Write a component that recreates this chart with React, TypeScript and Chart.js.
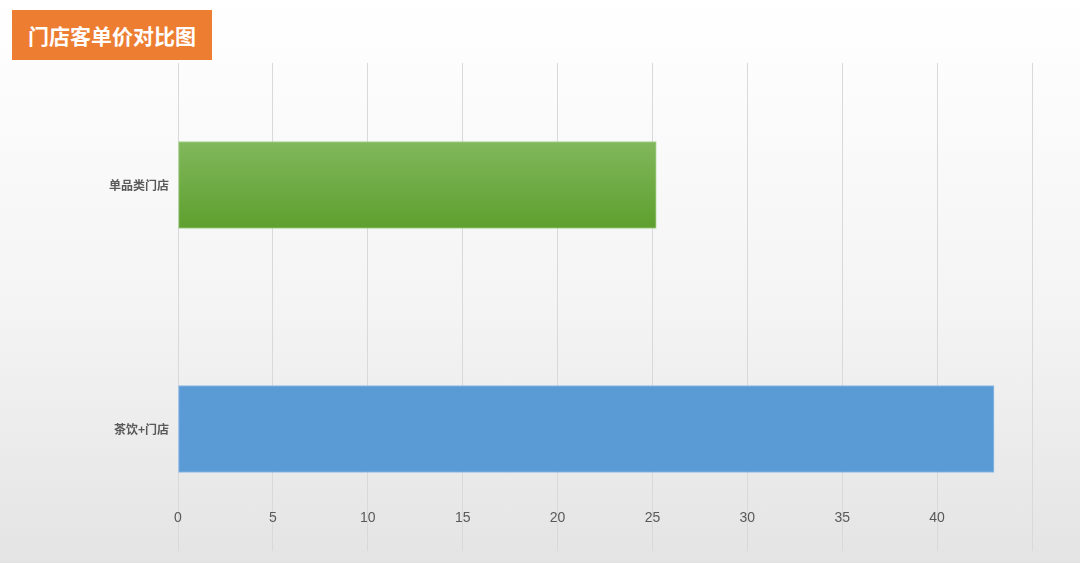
import React, { useEffect, useRef } from "react";
import { Chart, registerables } from "chart.js";

Chart.register(...registerables);

const TITLE = "门店客单价对比图";
const categories = ["单品类门店", "茶饮+门店"];
const values = [25.2, 43.0];
const xTicksMax = 45;
const xTickStep = 5;

export default function App() {
  const ref = useRef<HTMLCanvasElement | null>(null);

  useEffect(() => {
    if (!ref.current) return;
    const chart = new Chart(ref.current, {
      type: "bar",
      data: {
        labels: categories,
        datasets: [
          {
            data: values,
            backgroundColor: (ctx: any) => {
              const c = ctx.chart;
              if (ctx.dataIndex === 1) return "#5B9BD5";
              const area = c.chartArea;
              const ys = c.scales.y;
              if (!area || !ys) return "#6CAC3F";
              const cy = ys.getPixelForValue(0);
              const g = c.ctx.createLinearGradient(0, cy - 44, 0, cy + 44);
              g.addColorStop(0, "#81B85C");
              g.addColorStop(1, "#5E9F2E");
              return g;
            },
            borderColor: ["#A6D38A", "#8FBCE8"],
            borderWidth: 1,
            borderSkipped: false,
            barThickness: 87,
          },
        ],
      },
      options: {
        indexAxis: "y",
        responsive: false,
        animation: false,
        maintainAspectRatio: false,
        layout: { padding: { top: 63, right: 48, bottom: 12, left: 0 } },
        plugins: { legend: { display: false }, tooltip: { enabled: false }, title: { display: false } },
        scales: {
          x: {
            min: 0,
            max: xTicksMax,
            ticks: {
              stepSize: xTickStep,
              mirror: true,
              padding: 24,
              color: "#595959",
              font: { family: '"Liberation Sans", Arial, sans-serif', size: 14 },
              callback: (v: any) => (Number(v) >= xTicksMax ? "" : String(v)),
            },
            grid: { color: "#D9D9D9", lineWidth: 1, drawTicks: false },
            border: { display: false },
            afterFit: (s: any) => {
              s.height = 0;
              s.paddingTop = 0;
              s.paddingBottom = 0;
            },
          },
          y: {
            ticks: {
              padding: 9,
              color: "#595959",
              font: { family: '"Noto Sans CJK SC", sans-serif', size: 12, weight: "600" },
            },
            grid: { display: false, drawTicks: false },
            border: { display: false },
            afterFit: (s: any) => {
              s.width = 178;
              s.paddingTop = 0;
              s.paddingBottom = 0;
            },
          },
        },
      },
    });
    return () => chart.destroy();
  }, []);

  return (
    <div
      style={{
        position: "absolute",
        left: 0,
        top: 0,
        width: 1080,
        height: 563,
        background: "linear-gradient(to bottom, #FFFFFF 0%, #F4F4F4 55%, #E4E4E4 100%)",
        overflow: "hidden",
      }}
    >
      <canvas ref={ref} width={1080} height={563} style={{ position: "absolute", left: 0, top: 0, width: 1080, height: 563 }} />
      <div
        style={{
          position: "absolute",
          left: 12,
          top: 10,
          width: 200,
          height: 50,
          background: "#ED7D31",
          color: "#FFFFFF",
          fontFamily: '"Noto Sans CJK SC", sans-serif',
          fontWeight: 700,
          fontSize: 21,
          lineHeight: "50px",
          textAlign: "center",
          whiteSpace: "nowrap",
        }}
      >
        {TITLE}
      </div>
    </div>
  );
}
